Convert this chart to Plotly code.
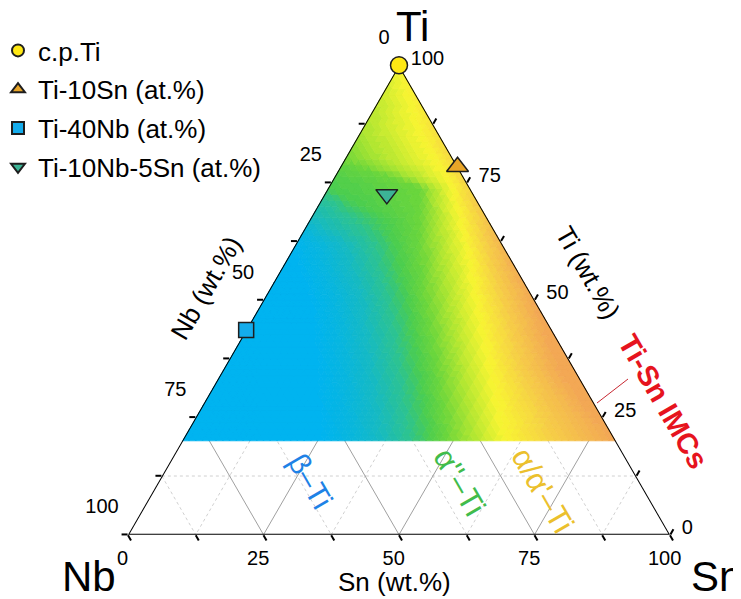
import numpy as np
import plotly.graph_objects as go

# ---------------- data ----------------
sample_names = ["c.p.Ti", "Ti-10Sn (at.%)", "Ti-40Nb (at.%)", "Ti-10Nb-5Sn (at.%)"]
sample_ti = [100.0, 78.4, 43.6, 72.5]
sample_nb = [0.0, 0.0, 56.4, 16.0]
sample_sn = [0.0, 21.6, 0.0, 11.5]
sample_symbols = ["circle", "triangle-up", "square", "triangle-down"]
sample_colors = ["rgb(255,232,20)", "rgb(232,165,40)", "rgb(20,172,236)", "rgb(60,180,150)"]
sample_sizes = [17, 19, 15, 19]

grid_values = [25, 50, 75]
minor_values = [12.5, 37.5, 62.5, 87.5]
all_tick_values = [0, 12.5, 25, 37.5, 50, 62.5, 75, 87.5, 100]
# labels show the reversed (clockwise) reading of each edge
all_tick_text = ["100", "", "75", "", "50", "", "25", "", "0"]

# phase-map background: for each Ti level (wt.%),
# the Sn content (wt.%) where the shading reaches each colour stop
map_ti = [20, 35, 50, 62, 67, 74, 80, 86, 93, 100]
stop_blue = [25.8, 17.6, 9.0, -0.7, -6.4, -16.3, -23.0, -26.0, -27.7, -29.3]
stop_teal = [36.5, 27.5, 18.2, 9.0, 0.4, -7.1, -15.6, -18.6, -20.3, -21.9]
stop_green = [45.7, 36.4, 26.7, 18.3, 13.9, 0.3, -8.3, -13.1, -14.8, -16.4]
stop_green2 = [49.0, 39.7, 29.8, 22.9, 20.4, 16.9, -0.9, -7.6, -9.2, -10.9]
stop_yellow = [59.6, 49.3, 39.4, 31.5, 27.8, 22.8, 16.6, 10.9, 5.5, 0.0]
stop_orange = [79.5, 62.2, 49.9, 39.5, 36.1, 30.7, 26.8, 22.9, 18.5, 13.1]
stop_level = [0.0, 0.3, 0.47, 0.56, 0.75, 1.0]
map_ti_min = 20

cs_pos = [0.0, 0.15, 0.30, 0.40, 0.47, 0.56, 0.65, 0.75, 0.87, 1.0]
cs_rgb = [(0, 180, 240), (8, 182, 222), (22, 186, 195), (45, 195, 145), (75, 205, 80),
          (108, 214, 60), (178, 231, 50), (248, 245, 50), (246, 205, 72), (243, 168, 85)]

FONT = "Arial, Liberation Sans, sans-serif"

# window size and the page's default body margin
W, H = 741, 599
OFF = 8
FW, FH = W - OFF, H - OFF


def px(x, y):
    return (x - OFF) / FW, 1 - (y - OFF) / FH


fig = go.Figure()


# ---------------- grid (dotted minor, solid major) ----------------
def grid_trace(values, color, dash):
    ga, gb, gc = [], [], []
    for m in values:
        for p, q in [((m, 100 - m, 0), (m, 0, 100 - m)),      # const Ti
                     ((100 - m, m, 0), (0, m, 100 - m)),      # const Nb
                     ((100 - m, 0, m), (0, 100 - m, m))]:     # const Sn
            ga += [p[0], q[0], None]; gb += [p[1], q[1], None]; gc += [p[2], q[2], None]
    return go.Scatterternary(a=ga, b=gb, c=gc, mode="lines", showlegend=False,
                             hoverinfo="skip", line=dict(color=color, width=1, dash=dash))


fig.add_trace(grid_trace(minor_values, "rgb(208,208,208)", "dot"))
fig.add_trace(grid_trace(grid_values, "rgb(160,160,160)", "solid"))

# ---------------- shaded phase map ----------------
N = 80
step = 100.0 / N
i_min = int(round(map_ti_min / step))
NL = 64


def level_at(ti, sn):
    stops = [np.interp(ti, map_ti, s) for s in
             (stop_blue, stop_teal, stop_green, stop_green2, stop_yellow, stop_orange)]
    return float(np.interp(sn, stops, stop_level))


def colour(v):
    r = np.interp(v, cs_pos, [c[0] for c in cs_rgb])
    g = np.interp(v, cs_pos, [c[1] for c in cs_rgb])
    b = np.interp(v, cs_pos, [c[2] for c in cs_rgb])
    return "rgb(%d,%d,%d)" % (round(r), round(g), round(b))


cells = []
for i in range(i_min, N):
    for j in range(0, N - i):
        k = N - 1 - i - j
        if k >= 0:
            cells.append([(i + 1, j, k), (i, j + 1, k), (i, j, k + 1)])
    for j in range(0, N - 1 - i):
        k = N - 2 - i - j
        if k >= 0:
            cells.append([(i, j + 1, k + 1), (i + 1, j, k + 1), (i + 1, j + 1, k)])

groups = {}
for verts in cells:
    ti_c = sum(v[0] for v in verts) / 3 * step
    sn_c = sum(v[2] for v in verts) / 3 * step
    q = int(round(level_at(ti_c, sn_c) * (NL - 1)))
    g = groups.setdefault(q, ([], [], []))
    for v in verts + [verts[0]]:
        g[0].append(v[0] * step); g[1].append(v[1] * step); g[2].append(v[2] * step)
    g[0].append(None); g[1].append(None); g[2].append(None)

for q in sorted(groups):
    col = colour(q / (NL - 1))
    a_, b_, c_ = groups[q]
    fig.add_trace(go.Scatterternary(a=a_, b=b_, c=c_, mode="lines", fill="toself",
                                    fillcolor=col, line=dict(color=col, width=0.8),
                                    showlegend=False, hoverinfo="skip"))

# ---------------- triangle outline ----------------
fig.add_trace(go.Scatterternary(a=[100, 0, 0, 100], b=[0, 100, 0, 0], c=[0, 0, 100, 0],
                                mode="lines", line=dict(color="black", width=2),
                                cliponaxis=False, showlegend=False, hoverinfo="skip"))

# ---------------- samples ----------------
for n, a_, b_, c_, s, col, sz in zip(sample_names, sample_ti, sample_nb, sample_sn,
                                     sample_symbols, sample_colors, sample_sizes):
    fig.add_trace(go.Scatterternary(a=[a_], b=[b_], c=[c_], mode="markers", name=n,
                                    marker=dict(symbol=s, size=sz, color=col,
                                                line=dict(color="rgb(30,30,30)", width=1.5)),
                                    cliponaxis=False, legendgroup=n))

NB = "\u00a0"
a_text = [t + "<br>" + NB + "<br>" + NB if t else "" for t in all_tick_text]
b_text = [t + NB * 3 if t else "" for t in all_tick_text]
c_text = [NB + t if t else "" for t in all_tick_text]


def axis(texts):
    return dict(tickmode="array", tickvals=all_tick_values, ticktext=texts,
                showticklabels=True, ticks="outside", ticklen=6, tickwidth=1.5,
                tickcolor="black", tickfont=dict(family=FONT, size=20, color="black"),
                showgrid=False, showline=False, layer="below traces",
                title=dict(text=""))


dx0, dy1 = px(128, 65)
dx1, dy0 = px(670, 535)
lx, ly = px(8, 27)

fig.update_layout(
    width=FW, height=FH,
    margin=dict(l=0, r=0, t=0, b=0, autoexpand=False),
    paper_bgcolor="white",
    font=dict(family=FONT, color="black"),
    ternary=dict(
        sum=100,
        bgcolor="white",
        domain=dict(x=[dx0, dx1], y=[dy0, dy1]),
        aaxis=axis(a_text), baxis=axis(b_text), caxis=axis(c_text),
    ),
    showlegend=True,
    legend=dict(x=lx, y=ly, xanchor="left", yanchor="top", indentation=-10,
                font=dict(family=FONT, size=26, color="black"),
                itemsizing="constant", bgcolor="rgba(0,0,0,0)", tracegroupgap=2),
)


def ann(text, x, y, size, color="black", angle=0, bold=False):
    if bold:
        text = "<b>" + text + "</b>"
    xx, yy = px(x, y)
    fig.add_annotation(text=text, x=xx, y=yy, xref="paper", yref="paper",
                       showarrow=False, textangle=angle, xanchor="center", yanchor="middle",
                       font=dict(family=FONT, size=size, color=color))


ann("Ti", 412, 27, 42)
ann("Nb", 89, 576, 42)
ann("Sn", 716, 576, 42)
ann("Nb (wt.%)", 206, 288, 26, angle=-60)
ann("Ti (wt.%)", 588, 273, 26, angle=60)
ann("Sn (wt.%)", 394, 582, 26)
ann("Ti-Sn IMCs", 663, 401, 29, color="rgb(230,20,30)", angle=60, bold=True)
ann("β–Ti", 311, 481, 30, color="rgb(30,130,230)", angle=60)
ann("α''–Ti", 460, 482, 31, color="rgb(65,188,75)", angle=60)
ann("α/α'–Ti", 543, 490, 31, color="rgb(235,192,45)", angle=60)

sx0, sy0 = px(597, 403)
sx1, sy1 = px(628, 379)
fig.add_shape(type="line", xref="paper", yref="paper", x0=sx0, y0=sy0, x1=sx1, y1=sy1,
              line=dict(color="rgb(200,40,50)", width=1))

fig.write_html("out.html")
